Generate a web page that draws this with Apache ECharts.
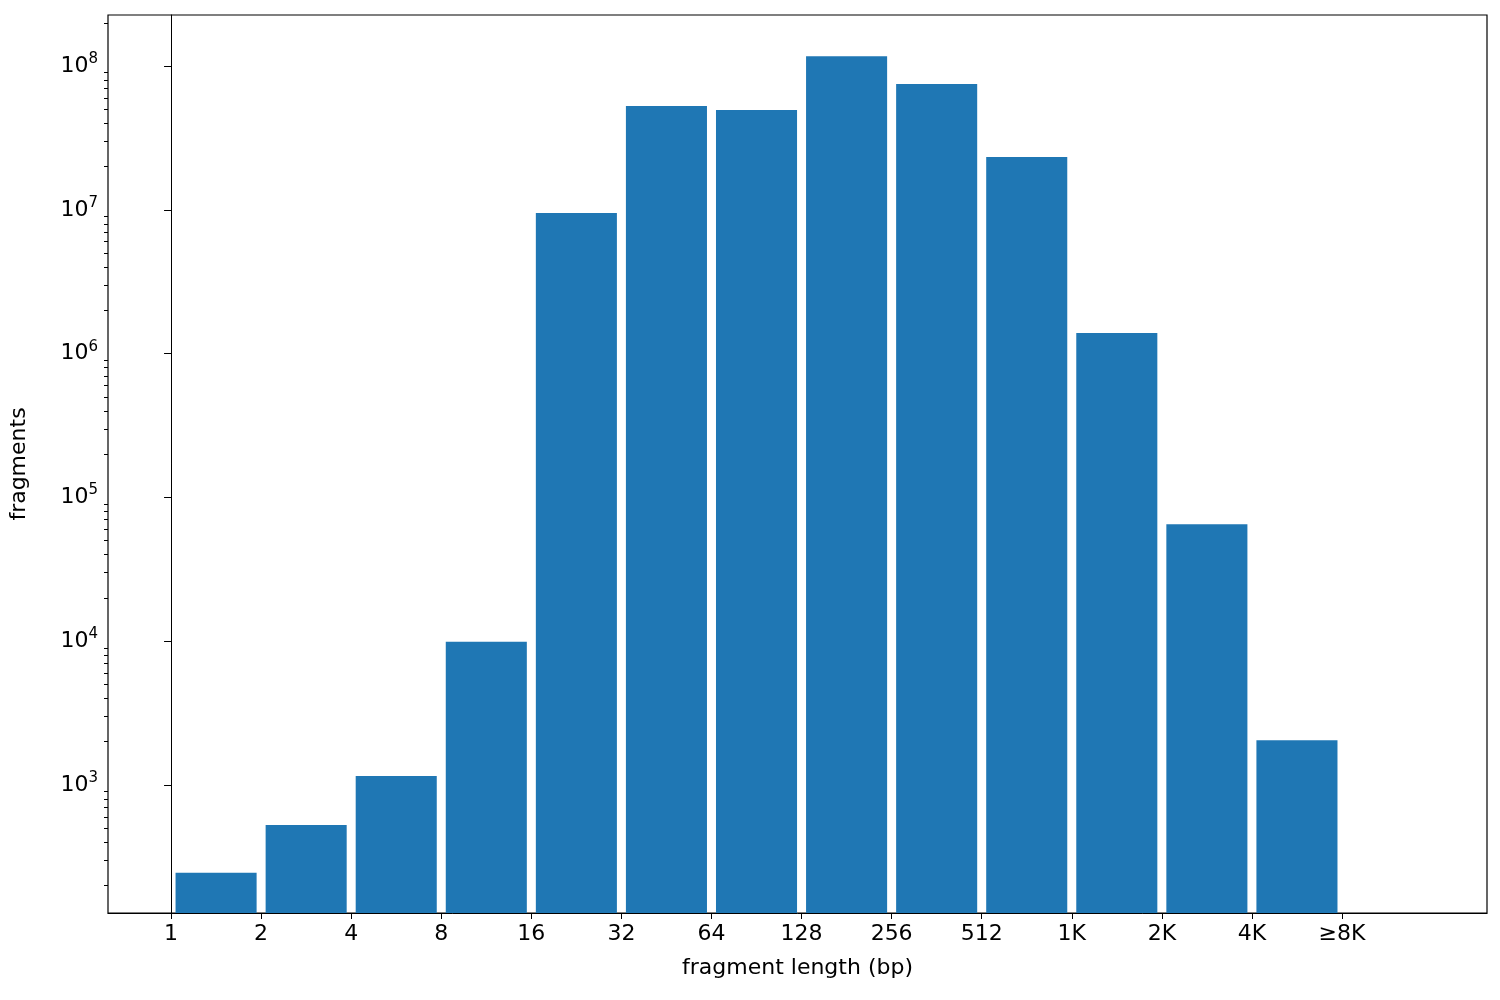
<!DOCTYPE html><html><head><meta charset="utf-8">
<script src="https://cdn.jsdelivr.net/npm/echarts@6/dist/echarts.min.js"></script>
<style>body{margin:0}#c{width:1500px;height:1000px}</style></head><body><div id="c"></div>
<script>
const tickLabels=['1','2','4','8','16','32','64','128','256','512','1K','2K','4K','≥8K'];
const values=[245,527,1155,9900,9.5e6,5.27e7,4.94e7,1.17e8,7.5e7,2.33e7,1.39e6,6.5e4,2050];
const majorExp=[3,4,5,6,7,8];
const minorTicks=[];
for(let e=2;e<=8;e++)for(let k=2;k<=9;k++){const v=e+Math.log10(k);if(v>2.11&&v<8.355)minorTicks.push(v);}
const chart=echarts.init(document.getElementById('c'));
const font='DejaVu Sans';
chart.setOption({
 animation:false,
 grid:{left:107,top:15,right:13,bottom:87,show:true,borderColor:'#000',borderWidth:1.2},
 xAxis:{type:'value',min:-0.7,max:14.61,splitLine:{show:false},
  axisLine:{lineStyle:{color:'#000'}},
  axisTick:{customValues:tickLabels.map((_,i)=>i),length:6,lineStyle:{color:'#000'}},
  axisLabel:{customValues:tickLabels.map((_,i)=>i),formatter:v=>tickLabels[Math.round(v)],color:'#000',fontSize:22,fontFamily:font,margin:10},
  name:'fragment length (bp)',nameLocation:'middle',nameGap:44,nameTextStyle:{fontSize:22,fontFamily:font,color:'#000'}},
 yAxis:[{type:'value',min:2.11,max:8.355,splitLine:{show:false},
  axisLine:{show:true,lineStyle:{color:'#000'}},
  axisTick:{customValues:majorExp,length:7,lineStyle:{color:'#000'}},
  axisLabel:{customValues:majorExp,formatter:v=>'{b|10}{s|'+Math.round(v)+'}',color:'#000',margin:10,
   rich:{b:{fontSize:22,fontFamily:font,color:'#000'},s:{fontSize:15,fontFamily:font,color:'#000',padding:[0,0,14,0]}}},
  name:'fragments',nameLocation:'middle',nameGap:78,nameTextStyle:{fontSize:22,fontFamily:font,color:'#000'}},
 {type:'value',min:2.11,max:8.355,position:'left',splitLine:{show:false},axisLine:{show:false},
  axisTick:{customValues:minorTicks,length:4,lineStyle:{color:'#000'}},axisLabel:{show:false}}],
 series:[{type:'custom',data:values.map((v,i)=>[i,Math.log10(v)]),
  renderItem:(params,api)=>{const i=api.value(0),v=api.value(1);
   const p1=api.coord([i+0.05,v]),p2=api.coord([i+0.95,2.11]);
   return {type:'rect',shape:{x:p1[0],y:p1[1],width:p2[0]-p1[0],height:p2[1]-p1[1]},style:{fill:'#1f77b4'}};}}]
});
</script></body></html>
